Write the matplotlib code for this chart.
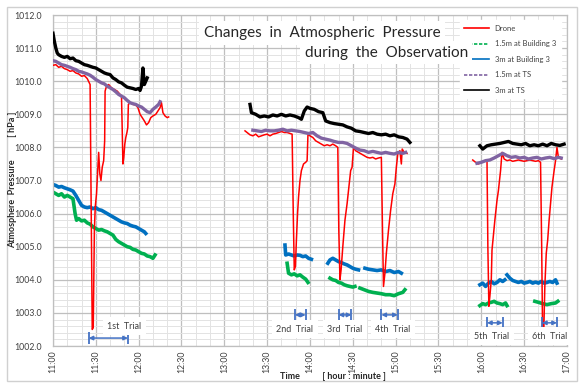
import numpy as np
import matplotlib
matplotlib.use("Agg")
import matplotlib.pyplot as plt
from matplotlib.ticker import MultipleLocator, FuncFormatter
from matplotlib.patches import Rectangle

nan = np.nan

# time in minutes after 11:00, pressure in hPa
drone_t = [0, 2, 4, 6, 8, 10, 12, 14, 16, 18, 20, 22, 24, 25.5, 26, 26.8, 27.5, 28.2, 28.6, 29, 29.6,
           30.5, 31.2, 32, 32.8, 33.6, 34.5, 35.5, 36.2, 36.5, 37.5, 39, 41, 43, 45, 47, 48, 48.6, 49,
           49.6, 50.3, 51, 51.8, 52.4, 52.8, 54, 56, 58, 59.5, 61, 62.5, 64, 65.5, 67, 68.5, 70, 72,
           73.5, 75, 76, 77, 78.5, 80, 81, 100,
           134.5, 136, 138, 140, 142, 144, 146, 148, 150, 152, 154, 156, 158, 160, 162, 164, 166,
           167.5, 168.3, 169, 169.8, 170.5, 171.3, 172, 173, 174, 175.5, 177, 178, 178.6, 180, 182,
           184, 186, 188, 190, 192, 194, 196, 198, 199.5, 200.2, 201, 201.8, 203, 204.5, 206, 207.5,
           208.5, 209.5, 210.5, 212, 214, 216, 218, 220, 222, 224, 226, 228, 230, 230.8, 231.5,
           232.5, 233.5, 235, 236.5, 238, 239.5, 240.5, 241.5, 243, 244, 244.6, 246, 248, 270,
           294, 296, 298, 300, 302, 304, 304.6, 305.3, 306, 307, 307.5, 309.5, 311, 312, 313.5,
           314.5, 316, 318, 320, 322, 324, 326, 328, 330, 332, 334, 336, 338, 340, 341.5, 342.3,
           343, 343.8, 344.5, 345.5, 346.5, 347.5, 349.5, 351, 352, 353, 354, 356]
drone_p = [1010.48, 1010.5, 1010.42, 1010.45, 1010.38, 1010.35, 1010.3, 1010.32, 1010.25, 1010.22,
           1010.15, 1010.17, 1010.08, 1009.95, 1009.9, 1006.0, 1002.5, 1002.55, 1004.0, 1005.5,
           1006.2, 1006.6, 1007.2, 1007.85, 1007.2, 1007.0, 1007.4, 1007.6, 1008.2, 1009.7, 1009.85,
           1009.9, 1009.8, 1009.75, 1009.7, 1009.6, 1009.55, 1008.4, 1007.5, 1007.7, 1008.1, 1008.3,
           1008.45, 1008.6, 1009.3, 1009.35, 1009.3, 1009.28, 1009.2, 1009.0, 1008.9, 1008.8,
           1008.68, 1008.75, 1008.9, 1008.95, 1009.0, 1009.1, 1009.2, 1009.35, 1009.05, 1008.95,
           1008.9, 1008.92, nan,
           1008.5, 1008.45, 1008.38, 1008.35, 1008.4, 1008.32, 1008.35, 1008.38, 1008.4, 1008.35,
           1008.4, 1008.42, 1008.45, 1008.48, 1008.45, 1008.45, 1008.42, 1008.4, 1006.0, 1004.3,
           1004.4, 1005.2, 1006.0, 1006.5, 1007.0, 1007.3, 1007.5, 1007.55, 1007.6, 1008.4, 1008.35,
           1008.3, 1008.2, 1008.15, 1008.1, 1008.05, 1008.08, 1008.05, 1008.1, 1008.05, 1008.0,
           1005.5, 1004.0, 1004.3, 1005.0, 1005.8, 1006.3, 1006.9, 1007.3, 1007.4, 1008.0, 1007.9,
           1007.85, 1007.8, 1007.75, 1007.7, 1007.68, 1007.7, 1007.65, 1007.68, 1007.7, 1005.5,
           1003.8, 1004.2, 1004.8, 1005.5, 1006.1, 1006.6, 1006.9, 1007.4, 1007.8, 1007.9, 1007.5,
           1007.95, 1007.85, 1007.82, nan,
           1007.62, 1007.55, 1007.5, 1007.55, 1007.58, 1007.6, 1005.0, 1003.2, 1003.5, 1004.0,
           1004.9, 1005.8, 1006.4, 1006.7, 1007.3, 1007.85, 1007.65, 1007.6, 1007.62, 1007.58,
           1007.6, 1007.62, 1007.6, 1007.58, 1007.6, 1007.62, 1007.6, 1007.58, 1007.6, 1007.55,
           1005.0, 1002.1, 1002.5, 1003.8, 1004.8, 1005.2, 1005.8, 1006.8, 1007.3, 1007.6, 1008.0,
           1007.7, 1007.65]

b3_15_t = [0, 2, 4, 6, 8, 10, 12, 14, 15.5, 16.5, 18, 20, 22, 24, 26, 28, 30, 32, 34, 36, 38, 40,
           42, 44, 46, 48, 50, 52, 54, 56, 58, 60, 62, 64, 66, 68, 70, 71.5, 100,
           164, 165, 167, 169, 171, 173, 175, 177, 178.6, 186,
           194, 196, 198, 200, 202, 204, 206, 208, 210, 211.5, 213,
           215, 218, 221, 224, 227, 230, 233, 236, 239, 242, 245, 246.5, 270,
           299, 301, 303, 305, 307, 309, 311, 313, 315, 317, 318, 330,
           337.5, 340, 343, 346, 349, 352, 353.6]
b3_15_p = [1006.65, 1006.6, 1006.55, 1006.6, 1006.5, 1006.55, 1006.5, 1006.45, 1006.0, 1005.8,
           1005.85, 1005.78, 1005.8, 1005.72, 1005.68, 1005.6, 1005.55, 1005.5, 1005.52, 1005.48,
           1005.45, 1005.4, 1005.35, 1005.22, 1005.15, 1005.1, 1005.05, 1005.0, 1004.98, 1004.92,
           1004.9, 1004.85, 1004.8, 1004.78, 1004.72, 1004.7, 1004.65, 1004.75, nan,
           1004.5, 1004.2, 1004.15, 1004.18, 1004.12, 1004.15, 1004.08, 1004.02, 1003.92, nan,
           1004.05, 1004.0, 1003.98, 1003.92, 1003.9, 1003.85, 1003.82, 1003.8, 1003.78, 1003.8, nan,
           1003.75, 1003.7, 1003.65, 1003.62, 1003.6, 1003.58, 1003.55, 1003.55, 1003.52, 1003.58,
           1003.62, 1003.7, nan,
           1003.22, 1003.28, 1003.25, 1003.3, 1003.32, 1003.35, 1003.3, 1003.28, 1003.25, 1003.3,
           1003.22, nan,
           1003.35, 1003.32, 1003.28, 1003.25, 1003.28, 1003.3, 1003.35]

b3_3_t = [0, 2, 4, 6, 8, 10, 12, 14, 16, 18, 20, 22, 24, 26, 28, 30, 32, 34, 36, 38, 40, 42, 44,
          46, 48, 50, 52, 54, 56, 58, 60, 62, 64, 65, 100,
          162.5, 163, 165, 167, 169, 171, 173, 175, 177, 179, 181, 186,
          192.5, 194, 196, 198, 200, 202, 204, 206, 208, 210, 212, 214, 216,
          218.5, 221, 224, 227, 230, 233, 236, 239, 242, 244, 270,
          299, 301, 303, 305, 307, 309, 311, 313, 315, 316.5, 317,
          318, 320, 322, 324, 326, 328, 330, 332, 334, 336, 338, 340, 342, 344, 346, 348, 350,
          352, 353]
b3_3_p = [1006.88, 1006.85, 1006.8, 1006.82, 1006.78, 1006.75, 1006.72, 1006.68, 1006.55, 1006.4,
          1006.25, 1006.2, 1006.18, 1006.2, 1006.15, 1006.18, 1006.12, 1006.1, 1006.05, 1006.0,
          1005.95, 1005.9, 1005.85, 1005.8, 1005.75, 1005.72, 1005.7, 1005.65, 1005.62, 1005.6,
          1005.55, 1005.5, 1005.45, 1005.4, nan,
          1005.05, 1004.75, 1004.78, 1004.75, 1004.72, 1004.75, 1004.74, 1004.7, 1004.72, 1004.65,
          1004.62, nan,
          1004.5, 1004.6, 1004.65, 1004.6, 1004.55, 1004.52, 1004.48, 1004.45, 1004.4, 1004.35,
          1004.32, 1004.3, nan,
          1004.35, 1004.32, 1004.3, 1004.28, 1004.3, 1004.25, 1004.28, 1004.22, 1004.25, 1004.2, nan,
          1003.85, 1003.9, 1003.8, 1003.9, 1003.95, 1003.88, 1003.92, 1004.0, 1003.95, 1004.0, nan,
          1004.15, 1004.05, 1003.98, 1003.95, 1003.92, 1003.95, 1003.9, 1003.92, 1003.95, 1003.9,
          1003.93, 1003.9, 1003.95, 1003.9, 1003.92, 1003.95, 1003.92, 1004.0, 1003.9]

ts_15_t = [0, 2, 4, 6, 8, 10, 12, 14, 16, 18, 20, 22, 24, 26, 28, 30, 32, 34, 36, 38, 40, 42, 44,
           46, 48, 50, 52, 54, 56, 58, 60, 62, 64, 66, 68, 70, 72, 74, 75, 100,
           140, 143, 146, 149, 152, 155, 158, 161, 164, 167, 170, 173, 176, 179, 182, 185, 188, 191,
           194, 197, 200, 203, 206, 209, 212, 215, 218, 221, 224, 227, 230, 233, 236, 239, 242, 245,
           247, 270,
           297, 300, 303, 306, 309, 312, 315, 318, 321, 324, 327, 330, 333, 336, 339, 342, 345, 348,
           351, 354, 356]
ts_15_p = [1010.62, 1010.6, 1010.55, 1010.5, 1010.48, 1010.45, 1010.42, 1010.38, 1010.35, 1010.3,
           1010.28, 1010.25, 1010.22, 1010.18, 1010.12, 1010.05, 1010.0, 1009.95, 1009.92, 1009.85,
           1009.8, 1009.75, 1009.68, 1009.6, 1009.55, 1009.5, 1009.42, 1009.35, 1009.32, 1009.3,
           1009.25, 1009.22, 1009.15, 1009.08, 1009.05, 1009.15, 1009.22, 1009.3, 1009.38, nan,
           1008.52, 1008.5, 1008.48, 1008.52, 1008.5, 1008.5, 1008.52, 1008.55, 1008.5, 1008.52,
           1008.5, 1008.48, 1008.45, 1008.42, 1008.45, 1008.35, 1008.28, 1008.25, 1008.22, 1008.18,
           1008.15, 1008.15, 1008.12, 1008.05, 1007.98, 1007.92, 1007.9, 1007.85, 1007.88, 1007.85,
           1007.82, 1007.85, 1007.82, 1007.8, 1007.85, 1007.82, 1007.85, nan,
           1007.52, 1007.55, 1007.6, 1007.62, 1007.68, 1007.75, 1007.82, 1007.75, 1007.7, 1007.72,
           1007.68, 1007.7, 1007.65, 1007.68, 1007.7, 1007.65, 1007.68, 1007.7, 1007.66, 1007.7,
           1007.68]

ts_3_t = [0, 1, 2, 3, 4, 6, 8, 10, 12, 14, 16, 18, 20, 22, 24, 26, 28, 30, 32, 34, 36, 38, 40, 42,
          44, 46, 48, 50, 52, 54, 56, 58, 60, 61, 62, 63, 64, 65, 66, 100,
          138, 139, 142, 145, 148, 151, 154, 157, 160, 163, 166, 169, 172, 174, 176, 178, 180, 183,
          186, 189, 191, 194, 197, 200, 203, 206, 209, 212, 215, 218, 221, 224, 227, 230, 233, 236,
          239, 242, 245, 248, 250, 270,
          299, 301, 304, 307, 310, 313, 316, 319, 322, 325, 328, 331, 334, 337, 340, 343, 346, 349,
          352, 355, 358]
ts_3_p = [1011.45, 1011.2, 1011.0, 1010.85, 1010.8, 1010.75, 1010.72, 1010.75, 1010.68, 1010.7,
          1010.62, 1010.6, 1010.55, 1010.5, 1010.48, 1010.45, 1010.42, 1010.4, 1010.35, 1010.3,
          1010.25, 1010.22, 1010.2, 1010.1, 1010.05, 1009.98, 1009.95, 1009.88, 1009.82, 1009.8,
          1009.78, 1009.75, 1009.78, 1009.72, 1009.85, 1010.4, 1009.9, 1010.0, 1010.1, nan,
          1009.3, 1009.05, 1009.0, 1008.92, 1008.95, 1008.92, 1008.98, 1008.95, 1009.0, 1008.95,
          1008.98, 1008.95, 1008.9, 1008.85, 1009.1, 1009.22, 1009.18, 1009.15, 1009.08, 1009.05,
          1008.8, 1008.75, 1008.72, 1008.7, 1008.68, 1008.62, 1008.58, 1008.5, 1008.48, 1008.45,
          1008.42, 1008.45, 1008.4, 1008.38, 1008.4, 1008.35, 1008.38, 1008.32, 1008.3, 1008.25,
          1008.15, nan,
          1008.05, 1007.95, 1008.05, 1008.08, 1008.1, 1008.12, 1008.15, 1008.18, 1008.12, 1008.1,
          1008.08, 1008.12, 1008.05, 1008.08, 1008.05, 1008.1, 1008.05, 1008.12, 1008.08, 1008.06,
          1008.1]

# trial periods (start, end) in minutes after 11:00
trial_names = ["1st  Trial", "2nd  Trial", "3rd  Trial", "4th  Trial", "5th  Trial", "6th  Trial"]
trial_start = [25, 169.5, 200, 230, 304, 342.5]
trial_end = [52.5, 177, 209, 241.5, 315, 353]

plt.rcParams['font.family'] = ['Lato', 'DejaVu Sans']

fig = plt.figure(figsize=(5.79, 3.83), dpi=100)
fig.patches.append(Rectangle((0.012, 0.005), 0.985, 0.978, transform=fig.transFigure,
                             fill=False, edgecolor='#d0d0d0', linewidth=1.0))
ax = fig.add_axes([0.0915, 0.0966, 0.8877, 0.8642])

ax.plot(drone_t, drone_p, color='#ff0000', lw=1.1, label='Drone', zorder=3)
ax.plot(b3_15_t, b3_15_p, color='#00b050', lw=2.6, label='1.5m at Building 3', zorder=2)
ax.plot(b3_3_t, b3_3_p, color='#0070c0', lw=2.6, label='3m at Building 3', zorder=2)
ax.plot(ts_15_t, ts_15_p, color='#8064a2', lw=2.4, label='1.5m at TS', zorder=4)
ax.plot(ts_3_t, ts_3_p, color='#000000', lw=2.4, label='3m at TS', zorder=4)

ax.set_xlim(0, 360)
ax.set_ylim(1002, 1012)
ax.xaxis.set_major_locator(MultipleLocator(30))
ax.xaxis.set_minor_locator(MultipleLocator(10))
ax.yaxis.set_major_locator(MultipleLocator(1))
ax.yaxis.set_minor_locator(MultipleLocator(0.2))
ax.xaxis.set_major_formatter(FuncFormatter(lambda v, p: "%d:%02d" % (11 + int(v) // 60, int(v) % 60)))
ax.yaxis.set_major_formatter(FuncFormatter(lambda v, p: "%.1f" % v))
ax.grid(which='major', color='#bfbfbf', lw=0.9)
ax.grid(which='minor', color='#e3e3e3', lw=0.7)
ax.set_axisbelow(True)
ax.tick_params(which='both', length=0, labelsize=6.3, colors='#404040')
ax.tick_params(axis='x', rotation=90, pad=3)
ax.tick_params(axis='y', pad=8)
for s in ax.spines.values():
    s.set_color('#bfbfbf')
    s.set_linewidth(0.9)

# trial arrows and labels
arrow_y = [1002.24, 1002.94, 1002.94, 1002.94, 1002.7, 1002.7]
label_y = [1002.6, 1002.5, 1002.5, 1002.5, 1002.3, 1002.3]
label_x = [50, 169.5, 204.5, 238, 307.5, 348]
for i in range(len(trial_names)):
    ax.annotate('', xy=(trial_start[i], arrow_y[i]), xytext=(trial_end[i], arrow_y[i]),
                arrowprops=dict(arrowstyle='<|-|>', color='#4472c4', lw=1.1,
                                mutation_scale=6, shrinkA=0, shrinkB=0), zorder=5)
    ax.plot([trial_start[i], trial_end[i]], [arrow_y[i], arrow_y[i]], ls='none', marker='|',
            ms=9, mew=1.3, color='#4472c4', zorder=5)
    ax.text(label_x[i], label_y[i], trial_names[i], fontsize=6.5, ha='center', va='center',
            color='#404040', zorder=6,
            bbox=dict(boxstyle='square,pad=0.5', fc='white', ec='none'))

# title box
fig.text(0.352, 0.914, "Changes  in  Atmospheric  Pressure", fontsize=11, ha='left', va='center',
         color='#262626', zorder=6,
         bbox=dict(boxstyle='square,pad=0.3', fc='white', ec='none'))
fig.text(0.808, 0.862, "during  the  Observation", fontsize=11, ha='right', va='center',
         color='#262626', zorder=7,
         bbox=dict(boxstyle='square,pad=0.3', fc='white', ec='none'))

leg = ax.legend(loc='upper right', bbox_to_anchor=(0.995, 0.995), fontsize=5.5, frameon=True,
                fancybox=False, edgecolor='white', framealpha=1.0, handlelength=3.2,
                labelspacing=1.1, borderpad=0.6)
for h in leg.get_lines():
    h.set_linewidth(1.2)
leg.get_lines()[1].set_linestyle((0, (2, 1)))
leg.get_lines()[3].set_linestyle((0, (2, 1)))
for t in leg.get_texts():
    t.set_color('#404040')

fig.text(0.575, 0.017, "Time          [ hour : minute ]", fontsize=6.5, fontweight='bold',
         ha='center', va='center', color='#262626')
fig.text(0.021, 0.53, "Atmosphere  Pressure          [ hPa ]", fontsize=6.5, fontweight='bold',
         rotation=90, ha='center', va='center', color='#262626')

fig.savefig("out.png", dpi=100)
